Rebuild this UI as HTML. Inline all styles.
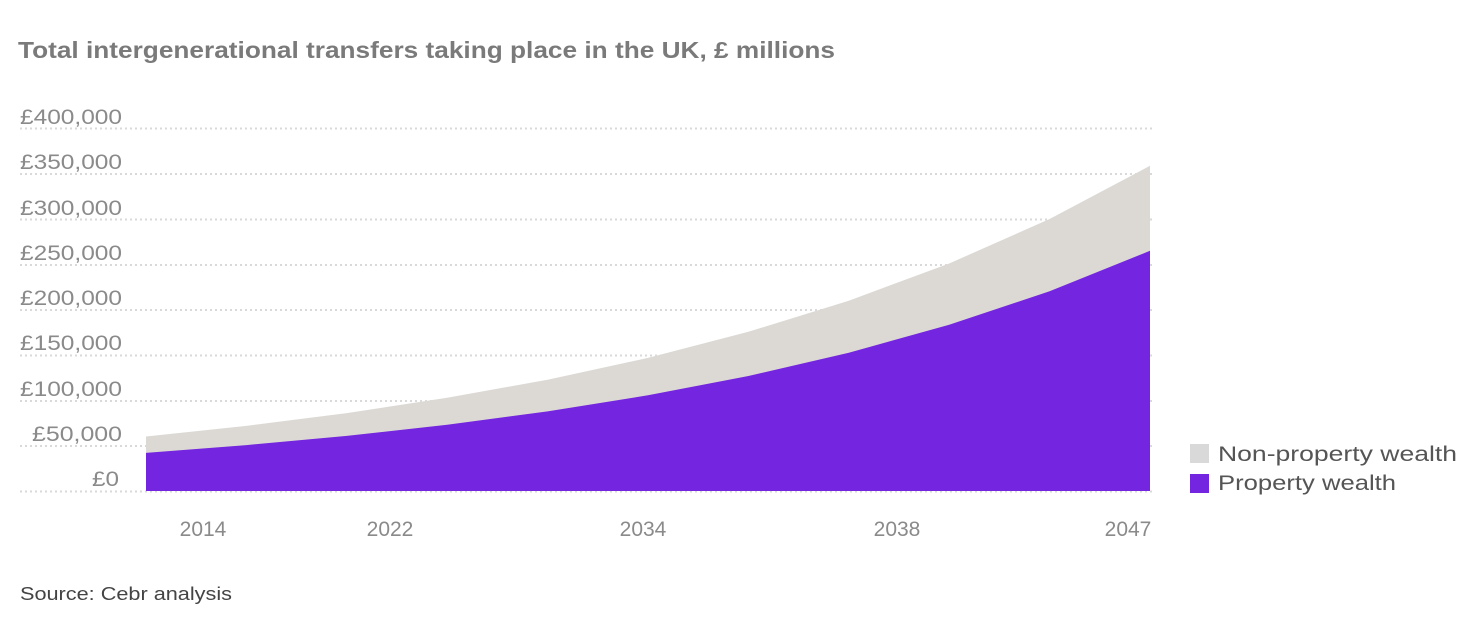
<!DOCTYPE html>
<html><head><meta charset="utf-8"><style>
body{margin:0;background:#fff;}
svg{display:block;font-family:"Liberation Sans",sans-serif;}
</style></head><body>
<svg width="1477" height="626" viewBox="0 0 1477 626">
<text x="18" y="58" font-size="23" font-weight="bold" fill="#7a7a7a" textLength="817" lengthAdjust="spacingAndGlyphs">Total intergenerational transfers taking place in the UK, £ millions</text>
<g stroke="#d9d9d9" stroke-width="2" stroke-dasharray="2,3">
<line x1="20" y1="128.5" x2="1152" y2="128.5"/>
<line x1="20" y1="174" x2="1152" y2="174"/>
<line x1="20" y1="219.5" x2="1152" y2="219.5"/>
<line x1="20" y1="265" x2="1152" y2="265"/>
<line x1="20" y1="310" x2="1152" y2="310"/>
<line x1="20" y1="355.5" x2="1152" y2="355.5"/>
<line x1="20" y1="401" x2="1152" y2="401"/>
<line x1="20" y1="446" x2="1152" y2="446"/>
<line x1="20" y1="491.5" x2="1152" y2="491.5"/>
</g>
<g font-size="21" fill="#8a8a8a">
<text x="20" y="124" textLength="102" lengthAdjust="spacingAndGlyphs">£400,000</text>
<text x="20" y="169" textLength="102" lengthAdjust="spacingAndGlyphs">£350,000</text>
<text x="20" y="215" textLength="102" lengthAdjust="spacingAndGlyphs">£300,000</text>
<text x="20" y="260" textLength="102" lengthAdjust="spacingAndGlyphs">£250,000</text>
<text x="20" y="305" textLength="102" lengthAdjust="spacingAndGlyphs">£200,000</text>
<text x="20" y="350" textLength="102" lengthAdjust="spacingAndGlyphs">£150,000</text>
<text x="20" y="396" textLength="102" lengthAdjust="spacingAndGlyphs">£100,000</text>
<text x="32" y="441" textLength="90" lengthAdjust="spacingAndGlyphs">£50,000</text>
<text x="92" y="486" textLength="27" lengthAdjust="spacingAndGlyphs">£0</text>
</g>
<path fill="#dcd9d5" d="M146,436.5 L246.4,425.9 L346.8,413.1 L447.2,397.8 L547.6,379.7 L648,357.9 L748.4,331.8 L848.8,300.7 L949.2,263.5 L1049.6,219 L1150,165.8 L1150,491 L146,491 Z"/>
<path fill="#7425e0" d="M146,452.9 L246.4,445.1 L346.8,435.9 L447.2,424.8 L547.6,411.4 L648,395.3 L748.4,376 L848.8,352.7 L949.2,324.8 L1049.6,291.2 L1150,250.8 L1150,491 L146,491 Z"/>
<g font-size="21" fill="#8a8a8a" text-anchor="middle">
<text x="203" y="536">2014</text>
<text x="390" y="536">2022</text>
<text x="643" y="536">2034</text>
<text x="897" y="536">2038</text>
<text x="1128" y="536">2047</text>
</g>
<rect x="1190" y="444" width="19" height="19" fill="#d9d9d9"/>
<rect x="1190" y="474" width="19" height="19" fill="#7425e0"/>
<g font-size="21" fill="#555">
<text x="1218" y="461" textLength="239" lengthAdjust="spacingAndGlyphs">Non-property wealth</text>
<text x="1218" y="490" textLength="178" lengthAdjust="spacingAndGlyphs">Property wealth</text>
</g>
<text x="20" y="600" font-size="18" fill="#444" textLength="212" lengthAdjust="spacingAndGlyphs">Source: Cebr analysis</text>
</svg>
</body></html>
